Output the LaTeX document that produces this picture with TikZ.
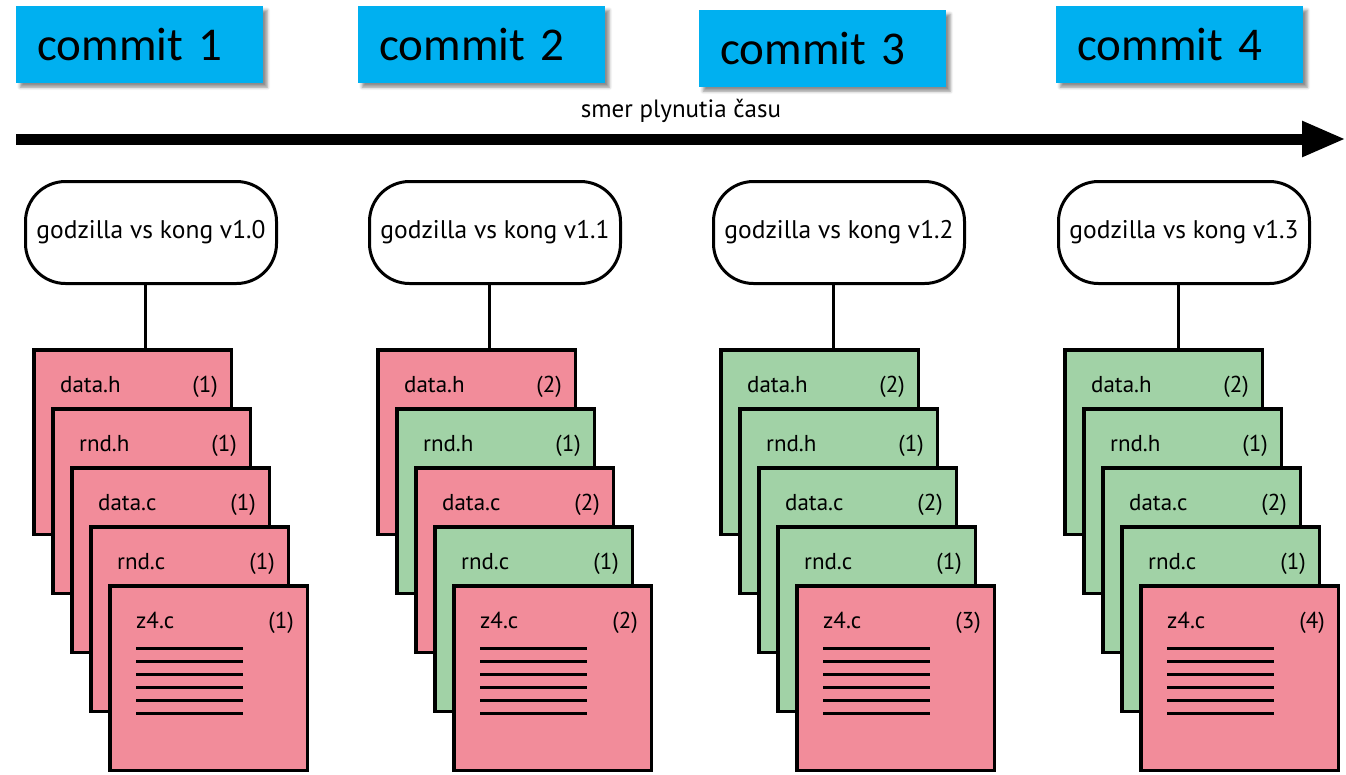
\documentclass[tikz,border=0pt]{standalone}
\usepackage{fontspec}
\setmainfont{PT Sans}
\newfontfamily\calibri{Carlito}
\usetikzlibrary{arrows.meta, positioning, shadows.blur}

\definecolor{commitblue}{RGB}{0,176,240}
\definecolor{filered}{RGB}{242,140,154}
\definecolor{filegreen}{RGB}{161,210,166}

\begin{document}
\begin{tikzpicture}[x=1pt, y=-1pt,
      commit/.style={fill=commitblue, anchor=north west, minimum width=247pt, minimum height=77pt,
          text width=205pt, inner xsep=21pt, inner ysep=0pt, align=left,
          font=\calibri\fontsize{47}{50}\selectfont,
          blur shadow={shadow xshift=4pt, shadow yshift=-4pt, shadow blur radius=3pt, shadow opacity=45}},
      version/.style={draw, line width=3pt, rounded corners=40pt, fill=white, anchor=north west,
          minimum width=251pt, minimum height=102pt, inner sep=0pt, font=\fontsize{25.5}{28}\selectfont},
      ftext/.style={font=\fontsize{23}{26}\selectfont, inner sep=0pt},
      file/.style n args={3}{draw, line width=3.5pt, fill=#1, anchor=north west,
          minimum width=197.5pt, minimum height=184.5pt, inner sep=0pt,
          label={[ftext, anchor=base west, xshift=28pt, yshift=-44pt]north west:#2},
          label={[ftext, anchor=base east, xshift=-15pt, yshift=-44pt]north east:#3}},
      link/.style={line width=3pt},
      codeline/.style={line width=3pt},
      timeline/.style={line width=11pt, -{Triangle[length=44pt, width=33pt]}}
      ]
      \useasboundingbox (0,0) rectangle (1346,774);

      % commits
      \node[commit] (c1) at (16,6)    {commit 1};
      \node[commit] (c2) at (358,6)   {commit 2};
      \node[commit] (c3) at (699,10)  {commit 3};
      \node[commit] (c4) at (1056,6)  {commit 4};

      % time axis
      \coordinate (tstart) at (16,139);
      \coordinate (tend)   at (1346,139);
      \draw[timeline] (tstart) -- node[ftext, font=\fontsize{25}{28}\selectfont, above=11pt] (tlabel) {smer plynutia času} (tend);

      % versions
      \node[version] (v1) at (24,180)   {godzilla vs kong v1.0};
      \node[version] (v2) at (368,180)  {godzilla vs kong v1.1};
      \node[version] (v3) at (712,180)  {godzilla vs kong v1.2};
      \node[version] (v4) at (1057,180) {godzilla vs kong v1.3};

      % commit 1
      \node[file={filered}{data.h}{(1)}]   (dh1) at (32,348) {};
      \node[file={filered}{rnd.h}{(1)}]    (rh1) at ([shift={(19,59)}]dh1.north west) {};
      \node[file={filered}{data.c}{(1)}]   (dc1) at ([shift={(19,59)}]rh1.north west) {};
      \node[file={filered}{rnd.c}{(1)}]    (rc1) at ([shift={(19,59)}]dc1.north west) {};
      \node[file={filered}{z4.c}{(1)}]     (z1)  at ([shift={(19,59)}]rc1.north west) {};

      % commit 2
      \node[file={filered}{data.h}{(2)}]   (dh2) at (376,348) {};
      \node[file={filegreen}{rnd.h}{(1)}]  (rh2) at ([shift={(19,59)}]dh2.north west) {};
      \node[file={filered}{data.c}{(2)}]   (dc2) at ([shift={(19,59)}]rh2.north west) {};
      \node[file={filegreen}{rnd.c}{(1)}]  (rc2) at ([shift={(19,59)}]dc2.north west) {};
      \node[file={filered}{z4.c}{(2)}]     (z2)  at ([shift={(19,59)}]rc2.north west) {};

      % commit 3
      \node[file={filegreen}{data.h}{(2)}] (dh3) at (719,348) {};
      \node[file={filegreen}{rnd.h}{(1)}]  (rh3) at ([shift={(19,59)}]dh3.north west) {};
      \node[file={filegreen}{data.c}{(2)}] (dc3) at ([shift={(19,59)}]rh3.north west) {};
      \node[file={filegreen}{rnd.c}{(1)}]  (rc3) at ([shift={(19,59)}]dc3.north west) {};
      \node[file={filered}{z4.c}{(3)}]     (z3)  at ([shift={(19,59)}]rc3.north west) {};

      % commit 4
      \node[file={filegreen}{data.h}{(2)}] (dh4) at (1063,348) {};
      \node[file={filegreen}{rnd.h}{(1)}]  (rh4) at ([shift={(19,59)}]dh4.north west) {};
      \node[file={filegreen}{data.c}{(2)}] (dc4) at ([shift={(19,59)}]rh4.north west) {};
      \node[file={filegreen}{rnd.c}{(1)}]  (rc4) at ([shift={(19,59)}]dc4.north west) {};
      \node[file={filered}{z4.c}{(4)}]     (z4)  at ([shift={(19,59)}]rc4.north west) {};

      % source lines in z4.c
      \foreach \n in {z1,z2,z3,z4}
        \foreach \k in {0,...,5}
          \draw[codeline] ([shift={(28,64+13*\k)}]\n.north west) -- ++(107,0);

      % version -> files
      \draw[link] ([xshift=-6pt]v1.south) -- ([xshift=-6pt]v1.south |- dh1.north);
      \draw[link] ([xshift=-6pt]v2.south) -- ([xshift=-6pt]v2.south |- dh2.north);
      \draw[link] ([xshift=-6pt]v3.south) -- ([xshift=-6pt]v3.south |- dh3.north);
      \draw[link] ([xshift=-6pt]v4.south) -- ([xshift=-6pt]v4.south |- dh4.north);
    \end{tikzpicture}
\end{document}
